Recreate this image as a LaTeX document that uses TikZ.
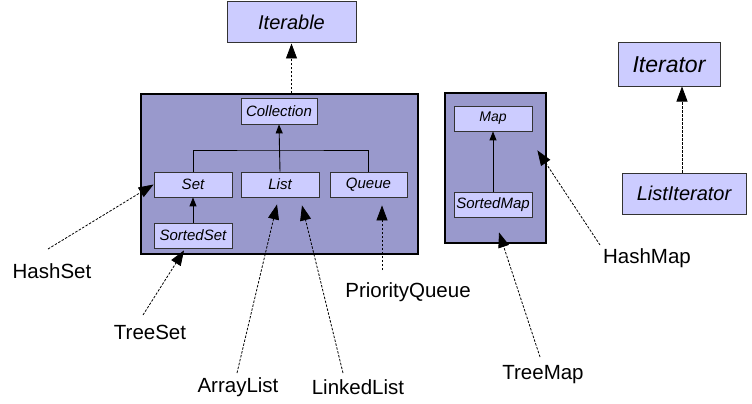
\documentclass[tikz,border=0pt]{standalone}
\usepackage{fontspec}
\setmainfont{Liberation Sans}
\usetikzlibrary{arrows.meta}
\definecolor{groupfill}{HTML}{9999CC}
\definecolor{boxfill}{HTML}{CCCCFF}
\tikzset{
  group/.style={draw=black, line width=1.2pt, fill=groupfill, inner sep=0pt},
  iface/.style={draw=black!80, line width=0.8pt, fill=boxfill, inner sep=0pt, font=\itshape\fontsize{15}{15}\selectfont},
  bigiface/.style={iface, line width=1pt, font=\itshape\fontsize{20}{20}\selectfont},
  impl/.style={inner sep=0pt, font=\fontsize{20.5}{20.5}\selectfont},
  extends/.style={line width=0.9pt, -{Triangle[length=9pt,width=7pt]}},
  realizes/.style={line width=0.8pt, dash pattern=on 2.5pt off 1.5pt, -{Triangle[length=15pt,width=11pt]}}
}
\begin{document}
\begin{tikzpicture}[x=1pt,y=-1pt]
\useasboundingbox (0,0) rectangle (752,404);
% interfaces on top
\node[bigiface, minimum width=129pt, minimum height=41pt] (iterable) at (291.5,22.5) {Iterable};
\node[bigiface, minimum width=102pt, minimum height=43pt, font=\itshape\fontsize{23}{23}\selectfont] (iterator) at (669,64.5) {Iterator};
\node[bigiface, minimum width=124pt, minimum height=41pt] (listiter) at (684,193.5) {ListIterator};
% collection group
\node[group, minimum width=277pt, minimum height=160pt] (colgroup) at (279.5,174) {};
\node[iface, minimum width=76pt, minimum height=26pt] (collection) at (279,111) {Collection};
\node[iface, minimum width=78pt, minimum height=25pt] (set) at (193,184.5) {Set};
\node[iface, minimum width=78pt, minimum height=25pt] (list) at (280,184.5) {List};
\node[iface, minimum width=77pt, minimum height=25pt] (queue) at (368.5,184.5) {Queue};
\node[iface, minimum width=78pt, minimum height=25pt] (sortedset) at (193,235.5) {SortedSet};
% map group
\node[group, minimum width=101pt, minimum height=150pt] (mapgroup) at (495.5,168) {};
\node[iface, minimum width=78pt, minimum height=25pt, font=\itshape\fontsize{14}{14}\selectfont] (map) at (493,118.5) {Map};
\node[iface, minimum width=78pt, minimum height=25pt] (sortedmap) at (493,204.5) {SortedMap};
% implementations
\node[impl] (hashset) at (52,271) {HashSet};
\node[impl] (treeset) at (150,332) {TreeSet};
\node[impl] (arraylist) at (238,387) {ArrayList};
\node[impl] (linkedlist) at (358,387) {LinkedList};
\node[impl] (prioqueue) at (408,292) {PriorityQueue};
\node[impl] (treemap) at (543,375) {TreeMap};
\node[impl] (hashmap) at (647,258) {HashMap};
\coordinate (bar) at (280,150);
\coordinate (hsend) at (48,249);
\coordinate (tsend) at (143,315);
\coordinate (alend) at (237,373);
\coordinate (llend) at (343,373);
\coordinate (pqend) at (382,270);
\coordinate (tmend) at (540,357);
\coordinate (hmend) at (600,245);
% extends
\draw[line width=0.9pt] (set.north) |- (bar) -| (queue.north);
\draw[extends] (list.north) -- (collection.south);
\draw[extends] (sortedset.north) -- (set.south);
\draw[extends] (sortedmap.north) -- (map.south);
\draw[realizes] (colgroup.north -| iterable.south) -- (iterable.south);
\draw[realizes] (listiter.north -| 682,0) -- (iterator.south -| 682,0);
% implementations
\draw[realizes] (hsend) -- (set.west);
\draw[realizes] (tsend) -- ([xshift=-9pt,yshift=-2pt]sortedset.south);
\draw[realizes] (alend) -- ([xshift=-3pt,yshift=-7pt]list.south);
\draw[realizes] (llend) -- ([xshift=22pt,yshift=-8pt]list.south);
\draw[realizes] (pqend) -- ([xshift=13.5pt,yshift=-8pt]queue.south);
\draw[realizes] (tmend) -- ([xshift=6pt,yshift=-15pt]sortedmap.south);
\draw[realizes] (hmend) -- ([xshift=5pt,yshift=-19pt]map.south east);
\end{tikzpicture}
\end{document}
